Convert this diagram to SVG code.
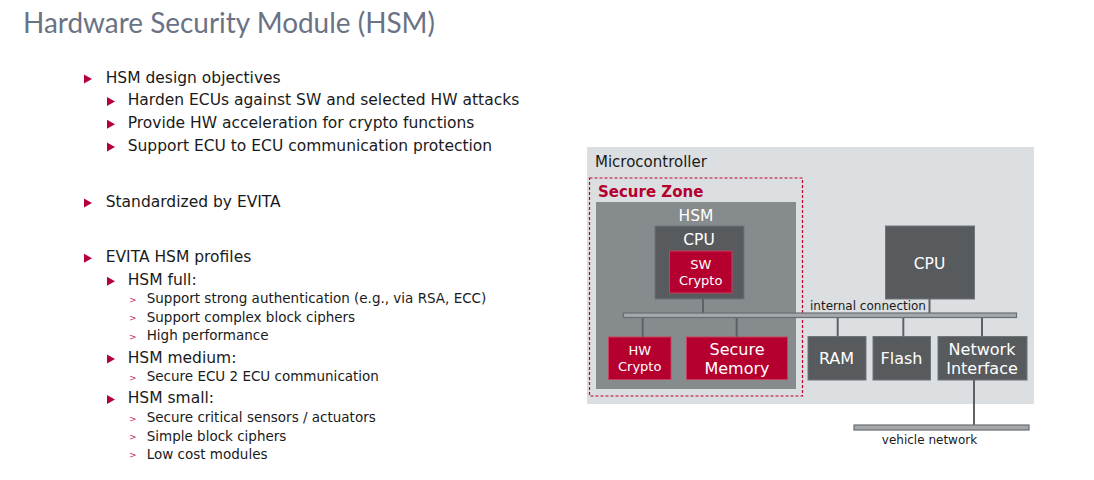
<svg xmlns="http://www.w3.org/2000/svg" width="1094" height="480" viewBox="0 0 1094 480">
<defs>
<style>
.t{font-family:"DejaVu Sans",Verdana,sans-serif;fill:#1a1a1a}
.l1{font-size:15.5px}
.l3{font-size:13.5px}
.tri{fill:#b5003a}
.gt{font-family:"DejaVu Sans",Verdana,sans-serif;font-size:9px;fill:#c0305a}
.w{font-family:"DejaVu Sans",Verdana,sans-serif;fill:#fff;text-anchor:middle}
.dark{fill:#575b5e;stroke:#70757a;stroke-width:1}
.red{fill:#b5002f;stroke:#c9405f;stroke-width:1}
.ln{stroke:#5e6266;stroke-width:2;fill:none}
.bar{fill:#a5a9ac;stroke:#6a6e72;stroke-width:1.2}
</style>
</defs>
<rect width="1094" height="480" fill="#fff"/>
<text x="23" y="33" font-family="Lato,'Liberation Sans',sans-serif" font-size="28" fill="#6a7285" textLength="412" lengthAdjust="spacingAndGlyphs">Hardware Security Module (HSM)</text>

<g id="bullets">
<path class="tri" d="M84,74.5 L92,79 L84,83.5Z"/>
<text class="t l1" x="105.7" y="82.7">HSM design objectives</text>
<path class="tri" d="M107,97 L115,101.5 L107,106Z"/>
<text class="t l1" x="127.7" y="105.3">Harden ECUs against SW and selected HW attacks</text>
<path class="tri" d="M107,119.7 L115,124.2 L107,128.7Z"/>
<text class="t l1" x="127.7" y="128">Provide HW acceleration for crypto functions</text>
<path class="tri" d="M107,142.4 L115,146.9 L107,151.4Z"/>
<text class="t l1" x="127.7" y="150.7">Support ECU to ECU communication protection</text>
<path class="tri" d="M84,198.4 L92,202.9 L84,207.4Z"/>
<text class="t l1" x="105.7" y="206.7">Standardized by EVITA</text>
<path class="tri" d="M84,253.7 L92,258.2 L84,262.7Z"/>
<text class="t l1" x="105.7" y="262">EVITA HSM profiles</text>
<path class="tri" d="M107,276.7 L115,281.2 L107,285.7Z"/>
<text class="t l1" x="127.7" y="285">HSM full:</text>
<text class="gt" x="129" y="303">&gt;</text>
<text class="t l3" x="146.7" y="303.3">Support strong authentication (e.g., via RSA, ECC)</text>
<text class="gt" x="129" y="321.4">&gt;</text>
<text class="t l3" x="146.7" y="321.7">Support complex block ciphers</text>
<text class="gt" x="129" y="339.7">&gt;</text>
<text class="t l3" x="146.7" y="340">High performance</text>
<path class="tri" d="M107,354.4 L115,358.9 L107,363.4Z"/>
<text class="t l1" x="127.7" y="362.7">HSM medium:</text>
<text class="gt" x="129" y="380.7">&gt;</text>
<text class="t l3" x="146.7" y="381">Secure ECU 2 ECU communication</text>
<path class="tri" d="M107,395 L115,399.5 L107,404Z"/>
<text class="t l1" x="127.7" y="403.3">HSM small:</text>
<text class="gt" x="129" y="422">&gt;</text>
<text class="t l3" x="146.7" y="422.3">Secure critical sensors / actuators</text>
<text class="gt" x="129" y="440.4">&gt;</text>
<text class="t l3" x="146.7" y="440.7">Simple block ciphers</text>
<text class="gt" x="129" y="458.4">&gt;</text>
<text class="t l3" x="146.7" y="458.7">Low cost modules</text>
</g>

<g id="microcontroller">
<rect x="587" y="147" width="447" height="257" fill="#dcdfe2"/>
<text class="t" x="595" y="166.5" font-size="15">Microcontroller</text>
</g>
<g id="secure-zone">
<rect x="589.5" y="178" width="213" height="218" fill="none" stroke="#c0002f" stroke-width="1.2" stroke-dasharray="3,2"/>
<text x="598" y="196.5" font-family="'DejaVu Sans',Verdana,sans-serif" font-weight="bold" font-size="15" fill="#b5002f">Secure Zone</text>
</g>
<g id="hsm">
<rect x="596" y="202" width="200" height="187" fill="#868b8d"/>
<text class="w" x="696" y="221" font-size="15.5">HSM</text>
</g>
<g id="hsm-cpu">
<rect class="dark" x="655" y="226" width="89" height="73"/>
<text class="w" x="699" y="245" font-size="15.5">CPU</text>
</g>
<g id="sw-crypto">
<rect class="red" x="669.5" y="251" width="62.5" height="42"/>
<text class="w" x="700.7" y="269.3" font-size="13">SW</text>
<text class="w" x="700.7" y="284.5" font-size="13">Crypto</text>
</g>
<g id="cpu">
<rect class="dark" x="885.5" y="226" width="89" height="73"/>
<text class="w" x="929.5" y="268.5" font-size="15.5">CPU</text>
</g>
<g id="hw-crypto">
<rect class="red" x="608.5" y="337" width="62.5" height="42.5"/>
<text class="w" x="639.7" y="355.3" font-size="13">HW</text>
<text class="w" x="639.7" y="371.3" font-size="13">Crypto</text>
</g>
<g id="secure-memory">
<rect class="red" x="686.5" y="337" width="101" height="42.5"/>
<text class="w" x="737" y="355.3" font-size="16">Secure</text>
<text class="w" x="737" y="374" font-size="16">Memory</text>
</g>
<g id="ram">
<rect class="dark" x="808" y="336.5" width="58" height="43.5"/>
<text class="w" x="836.5" y="364" font-size="16">RAM</text>
</g>
<g id="flash">
<rect class="dark" x="873" y="336.5" width="57.5" height="43.5"/>
<text class="w" x="901.5" y="364" font-size="16">Flash</text>
</g>
<g id="network-interface">
<rect class="dark" x="938" y="336.5" width="89" height="43.5"/>
<text class="w" x="982" y="355.3" font-size="16">Network</text>
<text class="w" x="982" y="373.5" font-size="16">Interface</text>
</g>

<g id="connectors">
<line class="ln" x1="703" y1="299" x2="703" y2="313"/>
<line class="ln" x1="929.5" y1="299" x2="929.5" y2="313"/>
<line class="ln" x1="642.7" y1="317" x2="642.7" y2="337"/>
<line class="ln" x1="736.7" y1="317" x2="736.7" y2="337"/>
<line class="ln" x1="837.7" y1="317" x2="837.7" y2="336.5"/>
<line class="ln" x1="903.3" y1="317" x2="903.3" y2="336.5"/>
<line class="ln" x1="982" y1="317" x2="982" y2="336.5"/>
<line class="ln" x1="974" y1="380" x2="974" y2="425"/>
<rect class="bar" x="623.5" y="313" width="393" height="4.5"/>
<rect class="bar" x="854" y="425" width="175" height="5"/>
<text class="t" x="810" y="310" font-size="12">internal connection</text>
<text class="t" x="929.5" y="444" font-size="12" text-anchor="middle">vehicle network</text>
</g>
</svg>
